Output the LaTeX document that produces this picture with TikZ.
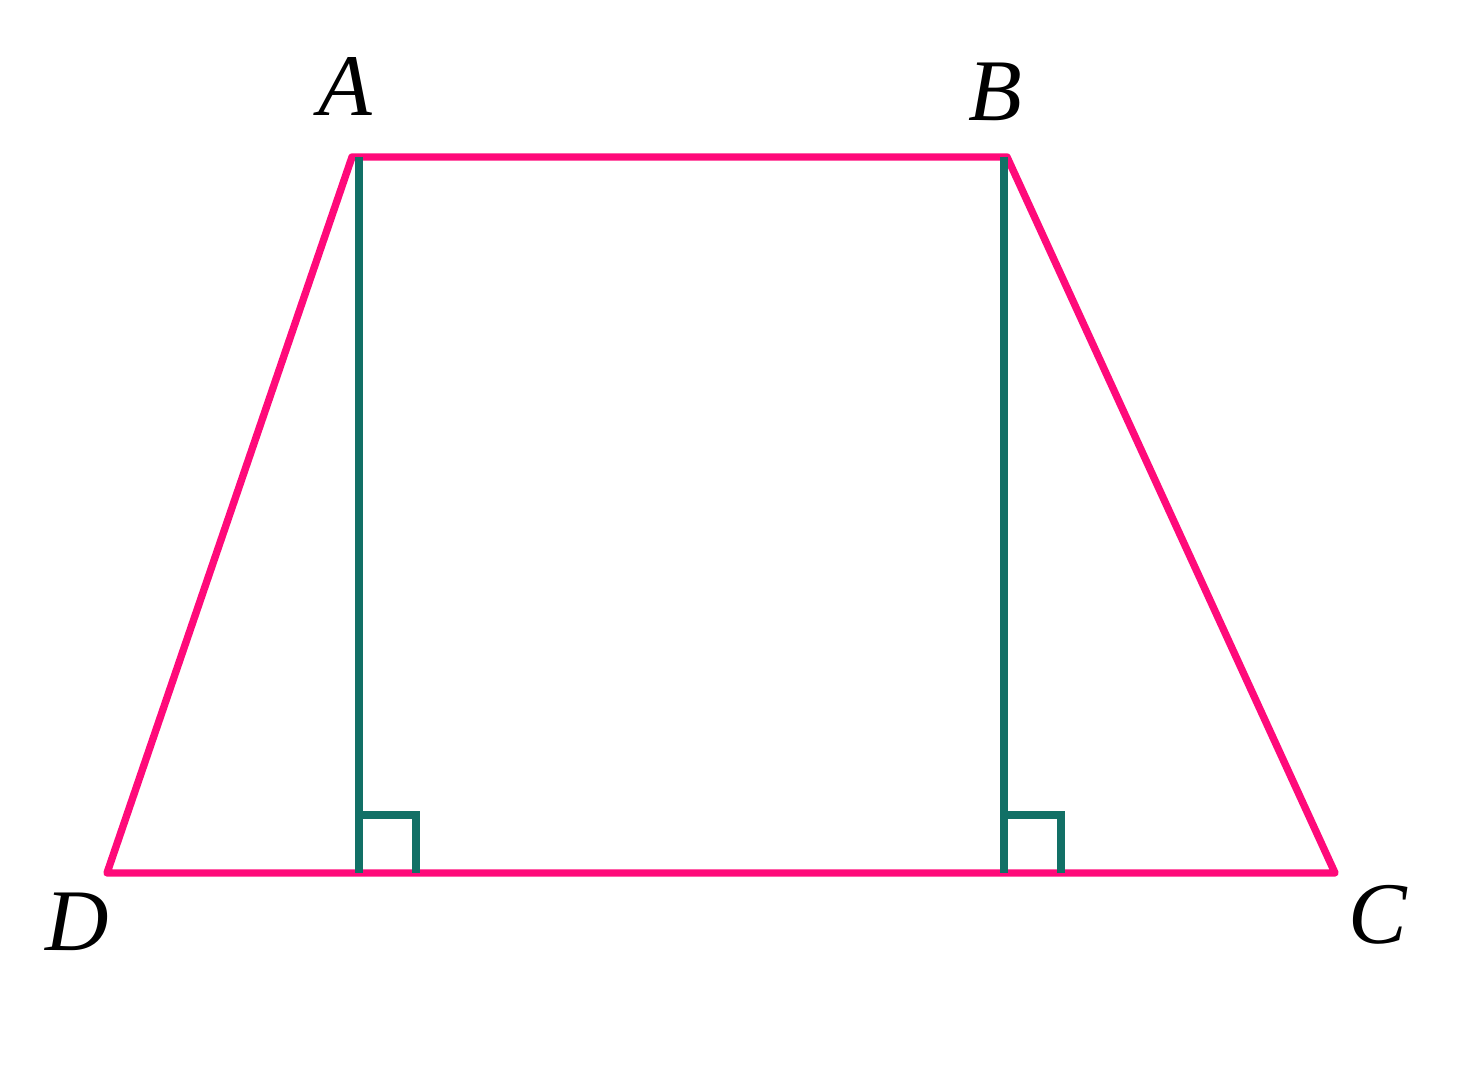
\documentclass[tikz,border=0pt]{standalone}
\usepackage{fontspec}
\setmainfont{Liberation Serif}
\usepackage{tikz}
\usetikzlibrary{calc}
\definecolor{sidepink}{RGB}{255,10,122}
\definecolor{altgreen}{RGB}{18,112,102}
\tikzset{
  side/.style={sidepink, line width=2.1pt, line join=round, line cap=round},
  alt/.style={altgreen, line width=2.1pt},
  vlabel/.style={font=\fontsize{25}{30}\selectfont\itshape, inner sep=0pt}
}
\begin{document}
\begin{tikzpicture}
    \useasboundingbox (0,0) rectangle (14.62,10.76);
    % Vertices
    \coordinate (A) at (3.52,9.19);
    \coordinate (B) at (10.07,9.19);
    \coordinate (C) at (13.35,2.03);
    \coordinate (D) at (1.07,2.03);
    % Trapezoid
    \draw[side] (A) -- (B) -- (C) -- (D) -- cycle;
    % Altitudes
    \coordinate (A1) at (3.59,9.19);
    \coordinate (E) at (3.59,2.03);
    \coordinate (B1) at (10.04,9.19);
    \coordinate (F) at (10.04,2.03);
    \draw[alt] (A1) -- (E);
    \draw[alt] (B1) -- (F);
    % Right angle marks
    \draw[alt] ($(E)+(0,0.58)$) -- ++(0.57,0) -- ++(0,-0.58);
    \draw[alt] ($(F)+(0,0.58)$) -- ++(0.57,0) -- ++(0,-0.58);
    % Labels
    \node[vlabel] (lA) at (3.45,9.89) {A};
    \node[vlabel] (lB) at (9.95,9.84) {B};
    \node[vlabel] (lC) at (13.78,1.61) {C};
    \node[vlabel] (lD) at (0.77,1.54) {D};
\end{tikzpicture}
\end{document}
